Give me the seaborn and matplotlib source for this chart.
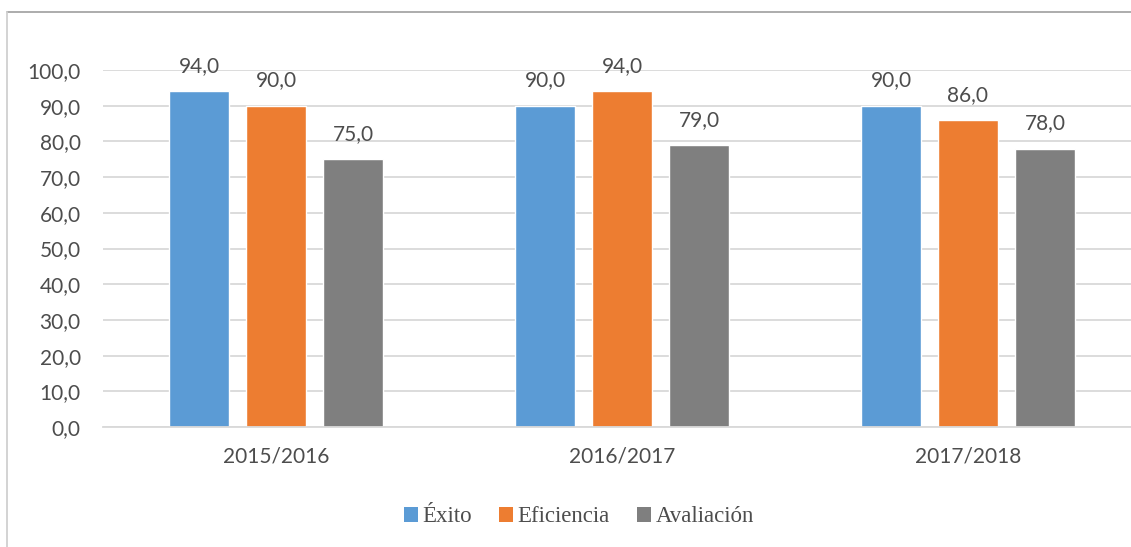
import numpy as np
import pandas as pd
import matplotlib
matplotlib.use("Agg")
import matplotlib.pyplot as plt
from matplotlib.lines import Line2D
from matplotlib.patches import Patch
import seaborn as sns

# data
years = ["2015/2016", "2016/2017", "2017/2018"]
series = ["Éxito", "Eficiencia", "Avaliación"]
exito = [94.0, 90.0, 90.0]
eficiencia = [90.0, 94.0, 86.0]
avaliacion = [75.0, 79.0, 78.0]
colors = ["#5B9BD5", "#ED7D31", "#7F7F7F"]
y_ticks = [0, 10, 20, 30, 40, 50, 60, 70, 80, 90, 100]


def comma(v):
    return f"{v:.1f}".replace(".", ",")


def build_frame():
    rows = []
    for name, vals in zip(series, [exito, eficiencia, avaliacion]):
        for yr, v in zip(years, vals):
            rows.append({"year": yr, "serie": name, "valor": v})
    return pd.DataFrame(rows)


def main():
    sns.set_style("white")
    plt.rcParams["font.family"] = ["Lato", "DejaVu Sans"]
    text_col = "#4D4D4D"

    df = build_frame()
    W, H = 1131, 547
    fig = plt.figure(figsize=(W / 100, H / 100), dpi=100)
    ax = fig.add_axes([103 / W, (H - 427) / H, (1141 - 103) / W, 357 / H])

    sns.barplot(data=df, x="year", y="valor", hue="serie", order=years,
                hue_order=series, palette=colors, width=0.6675, gap=0.21,
                saturation=1, legend=False, ax=ax)

    for cont in ax.containers:
        ax.bar_label(cont, labels=[comma(b.get_height()) for b in cont],
                     padding=11, fontsize=15, color=text_col)

    ax.set_xlim(-0.5, 2.5)
    ax.set_ylim(0, 100)
    ax.set_yticks(y_ticks)
    ax.set_yticklabels([comma(t) for t in y_ticks])
    ax.yaxis.grid(True, color="#D9D9D9", linewidth=1.3)
    ax.set_axisbelow(True)
    ax.tick_params(axis="both", length=0, labelsize=15, labelcolor=text_col)
    ax.tick_params(axis="y", pad=16)
    ax.tick_params(axis="x", pad=14)
    ax.set_xlabel("")
    ax.set_ylabel("")
    for s in ["top", "right", "left"]:
        ax.spines[s].set_visible(False)
    ax.spines["bottom"].set_color("#D9D9D9")
    ax.spines["bottom"].set_linewidth(1.3)

    handles = [Patch(facecolor=c, edgecolor="none") for c in colors]
    fig.legend(handles, series, loc="center", bbox_to_anchor=(579 / W, (H - 517) / H),
               ncol=3, frameon=False, handlelength=0.6, handleheight=0.6,
               handletextpad=0.2, columnspacing=1.2,
               prop={"family": ["Liberation Serif", "DejaVu Serif"], "size": 16.5},
               labelcolor=text_col)

    # outer frame lines of the chart area
    fig.add_artist(Line2D([7 / W, 1], [(H - 12) / H, (H - 12) / H],
                          color="#A6A6A6", linewidth=1.3, transform=fig.transFigure))
    fig.add_artist(Line2D([7 / W, 7 / W], [0, (H - 12) / H],
                          color="#D0D0D0", linewidth=1.3, transform=fig.transFigure))

    fig.savefig("out.png", dpi=100)


if __name__ == "__main__":
    main()
